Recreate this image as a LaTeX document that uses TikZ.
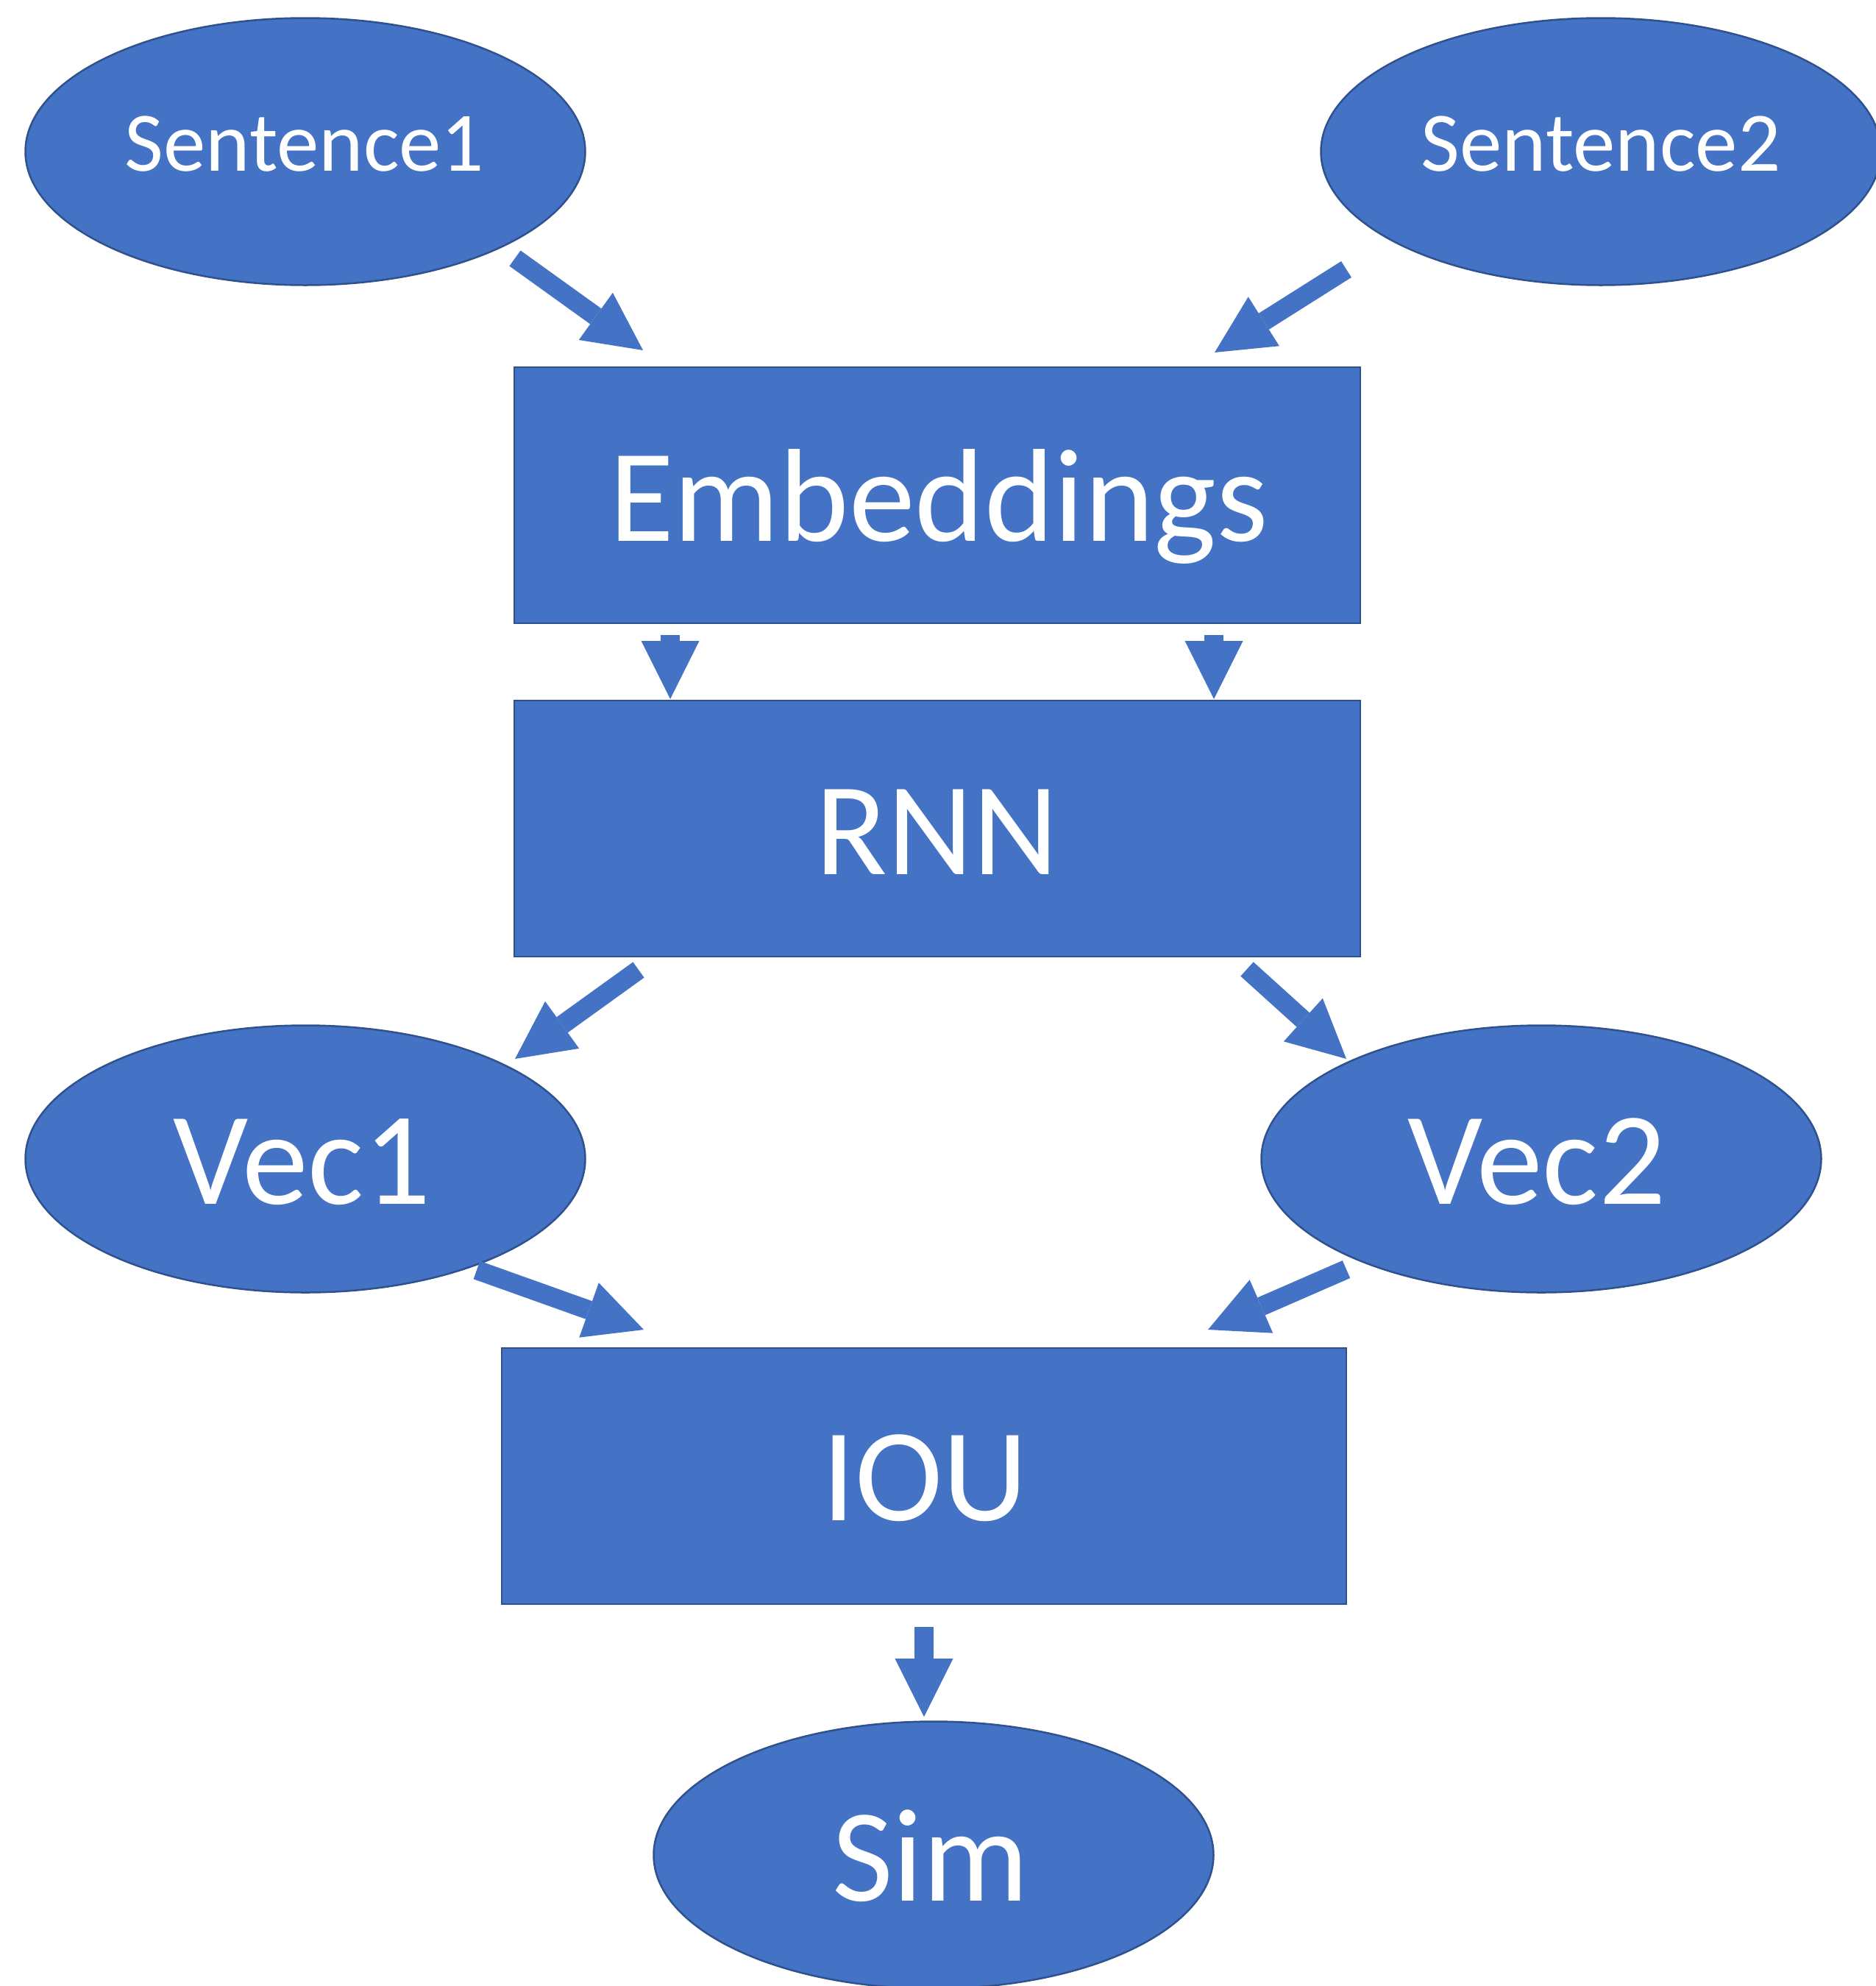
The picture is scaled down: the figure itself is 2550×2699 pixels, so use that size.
\documentclass[tikz,border=0pt]{standalone}
\usepackage{fontspec}
\setmainfont{Carlito}
\usetikzlibrary{shapes.geometric,arrows.meta}
\definecolor{fillblue}{HTML}{4472C4}
\definecolor{edgeblue}{HTML}{2F528F}
\begin{document}
\begin{tikzpicture}[x=1pt,y=-1pt,
  shapebox/.style={draw=edgeblue,fill=fillblue,line width=2.5pt,inner sep=0pt},
  ell/.style={shapebox,ellipse,minimum width=761pt,minimum height=363pt},
  rect/.style={shapebox,rectangle,minimum width=1150pt,minimum height=348pt},
  lbl/.style={text=white,anchor=base,inner sep=0pt},
  small/.style={lbl,font=\fontsize{115}{115}\selectfont},
  big/.style={lbl,font=\fontsize{180}{180}\selectfont},
  blk/.style={draw=fillblue,line width=26pt,-{Triangle[width=79pt,length=79pt,line width=0pt]}}]
\useasboundingbox (0,0) rectangle (2550,2699);
% shapes
\node[ell] (s1) at (415,206) {};
\node[ell] (s2) at (2176,206) {};
\node[rect] (emb) at (1274,673) {};
\node[rect] (rnn) at (1274,1126) {};
\node[ell] (v1) at (415,1575) {};
\node[ell] (v2) at (2095,1575) {};
\node[shapebox,rectangle,minimum width=1148pt,minimum height=348pt] (iou) at (1256,2006) {};
\node[ell] (sim) at (1269,2521) {};
% labels
\node[small] (ts1) at (414,232) {Sentence1};
\node[small] (ts2) at (2176,232) {Sentence2};
\node[big] (temb) at (1276,735) {Embeddings};
\node[big] (trnn) at (1274,1188) {RNN};
\node[big] (tv1) at (411,1636) {Vec1};
\node[big] (tv2) at (2089,1636) {Vec2};
\node[big] (tiou) at (1257,2066) {IOU};
\node[big] (tsim) at (1265,2583) {Sim};
% arrow ends
\coordinate (a1t) at (700,351);  \coordinate (a1h) at (874,476);
\coordinate (a2t) at (1830,366); \coordinate (a2h) at (1651,479);
\coordinate (a3t) at (911,863);  \coordinate (a3h) at (911,950);
\coordinate (a4t) at (1650,863); \coordinate (a4h) at (1650,950);
\coordinate (a5t) at (868,1318); \coordinate (a5h) at (700,1439);
\coordinate (a6t) at (1695,1317);\coordinate (a6h) at (1830,1439);
\coordinate (a7t) at (648,1726); \coordinate (a7h) at (875,1807);
\coordinate (a8t) at (1830,1725);\coordinate (a8h) at (1642,1807);
\coordinate (a9t) at (1256,2211);\coordinate (a9h) at (1256,2333);
\foreach \i in {1,...,9}{\draw[blk] (a\i t) -- (a\i h);}
\end{tikzpicture}
\end{document}
